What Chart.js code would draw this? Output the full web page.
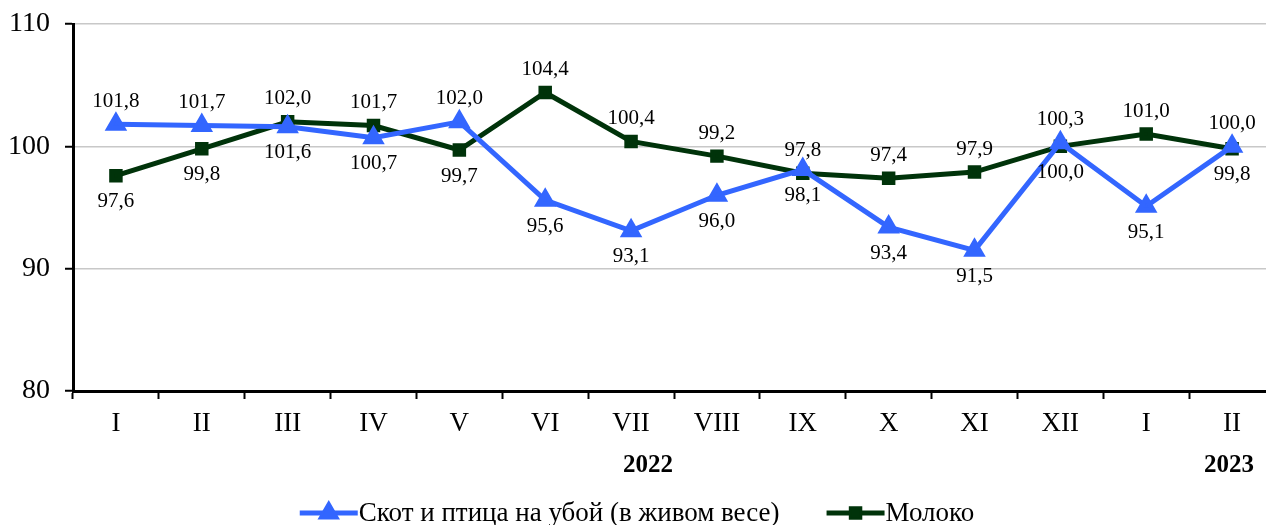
<!DOCTYPE html>
<html>
<head>
<meta charset="utf-8">
<script src="https://cdn.jsdelivr.net/npm/chart.js@4"></script>
<style>
  html, body { margin: 0; padding: 0; overflow: hidden; background: #fff; }
  #wrap { width: 1288px; height: 525px; }
</style>
</head>
<body>
<div id="wrap"><canvas id="chart" width="1288" height="525"></canvas></div>
<script>
const months = ["I", "II", "III", "IV", "V", "VI", "VII", "VIII", "IX", "X", "XI", "XII", "I", "II"];
const cattle = [101.8, 101.7, 101.6, 100.7, 102.0, 95.6, 93.1, 96.0, 98.1, 93.4, 91.5, 100.3, 95.1, 100.0];
const milk = [97.6, 99.8, 102.0, 101.7, 99.7, 104.4, 100.4, 99.2, 97.8, 97.4, 97.9, 100.0, 101.0, 99.8];
const yTicks = [80, 90, 100, 110];
const years = [{ text: "2022", index: 6 }, { text: "2023", index: 13 }];

// where each value label sits relative to its point
const cattleLabelPos = ["up", "up", "down", "down", "up", "down", "down", "down", "down", "down", "down", "up", "down", "up"];
const milkLabelPos = ["down", "down", "up", "up", "down", "up", "up", "up", "up", "up", "up", "down", "up", "down"];

const BLUE = "#3366FF";
const GREEN = "#00330A";
const SERIF = "'Liberation Serif', 'Times New Roman', serif";

const fmt = v => v.toFixed(1).replace(".", ",");

const valueLabels = {
  id: "valueLabels",
  afterDatasetsDraw(chart) {
    const ctx = chart.ctx;
    ctx.save();
    ctx.font = "21px " + SERIF;
    ctx.fillStyle = "#000";
    ctx.textAlign = "center";
    ctx.textBaseline = "middle";
    chart.data.datasets.forEach((ds, di) => {
      const meta = chart.getDatasetMeta(di);
      meta.data.forEach((pt, i) => {
        const up = ds.labelPos[i] === "up";
        ctx.fillText(fmt(ds.data[i]), pt.x, pt.y + (up ? -23 : 26));
      });
    });
    ctx.restore();
  }
};

const extras = {
  id: "extras",
  afterDraw(chart) {
    const ctx = chart.ctx;
    const x = chart.scales.x;
    ctx.save();
    // year captions
    ctx.font = "bold 25px " + SERIF;
    ctx.fillStyle = "#000";
    ctx.textAlign = "center";
    ctx.textBaseline = "middle";
    years.forEach(y => {
      const shift = y.index === 6 ? 17 : -3;
      ctx.fillText(y.text, x.getPixelForValue(y.index) + shift, 466);
    });

    // legend: line with marker, then text
    ctx.font = "27px " + SERIF;
    ctx.textAlign = "left";
    const items = chart.data.datasets.map(ds => ({ ds, w: 58 + 1 + ctx.measureText(ds.label).width }));
    const gap = 47;
    const total = items.reduce((s, it) => s + it.w, 0) + gap * (items.length - 1);
    let cx = 637 - total / 2;
    const cy = 513;
    items.forEach(it => {
      const ds = it.ds;
      ctx.strokeStyle = ds.borderColor;
      ctx.lineWidth = 5;
      ctx.beginPath();
      ctx.moveTo(cx, cy);
      ctx.lineTo(cx + 58, cy);
      ctx.stroke();
      Chart.helpers.drawPoint(ctx, {
        pointStyle: ds.pointStyle,
        radius: ds.pointRadius,
        borderWidth: 1
      }, cx + 29, cy);
      ctx.fillStyle = ds.pointBackgroundColor;
      ctx.fill();
      ctx.fillStyle = "#000";
      ctx.fillText(ds.label, cx + 59, cy + 1);
      cx += it.w + gap;
    });
    ctx.restore();
  }
};

new Chart(document.getElementById("chart"), {
  type: "line",
  data: {
    labels: months,
    datasets: [
      {
        label: "Скот и птица на убой (в живом весе)",
        data: cattle,
        labelPos: cattleLabelPos,
        borderColor: BLUE,
        backgroundColor: BLUE,
        pointBackgroundColor: BLUE,
        pointBorderColor: BLUE,
        borderWidth: 5,
        pointStyle: "triangle",
        pointRadius: 8,
        tension: 0
      },
      {
        label: "Молоко",
        data: milk,
        labelPos: milkLabelPos,
        borderColor: GREEN,
        backgroundColor: GREEN,
        pointBackgroundColor: GREEN,
        pointBorderColor: GREEN,
        borderWidth: 5,
        pointStyle: "rect",
        pointRadius: 6,
        tension: 0
      }
    ]
  },
  options: {
    responsive: false,
    animation: false,
    events: [],
    layout: { padding: { top: 24, left: 0, right: 0, bottom: 54 } },
    plugins: {
      legend: { display: false },
      tooltip: { enabled: false }
    },
    scales: {
      x: {
        offset: true,
        afterFit: s => { s.height = 80; },
        grid: {
          offset: true,
          drawOnChartArea: false,
          drawTicks: true,
          tickLength: 8,
          tickColor: "#000",
          tickWidth: 2
        },
        border: { color: "#000", width: 3 },
        ticks: {
          color: "#000",
          padding: 9,
          maxRotation: 0,
          autoSkip: false,
          font: { family: SERIF, size: 27 }
        }
      },
      y: {
        min: 80,
        max: 110,
        afterFit: s => {
          s.width = 73;
          s.paddingTop = 0;
          s.paddingBottom = 0;
        },
        afterBuildTicks: s => { s.ticks = yTicks.map(v => ({ value: v })); },
        grid: {
          color: ctx => (ctx.tick && ctx.tick.value === 80 ? "rgba(0,0,0,0)" : "#C8C8C8"),
          lineWidth: 1.5,
          tickLength: 8,
          tickColor: "#000",
          tickWidth: 2
        },
        border: { color: "#000", width: 3 },
        ticks: {
          color: "#000",
          padding: 15,
          font: { family: SERIF, size: 28 }
        }
      }
    }
  },
  plugins: [valueLabels, extras]
});
</script>
</body>
</html>
